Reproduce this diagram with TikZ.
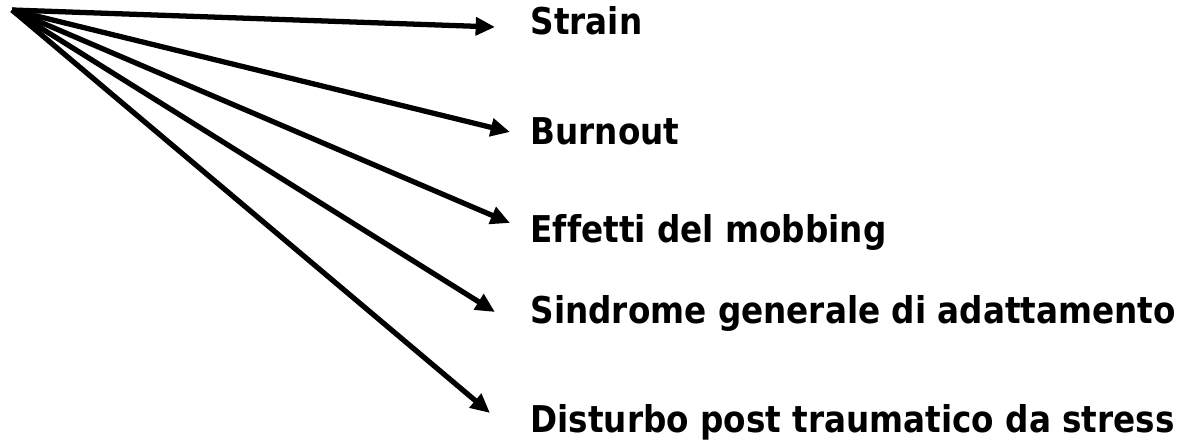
\documentclass[tikz,border=0pt]{standalone}
\usepackage{fontspec}
\setmainfont{DejaVu Sans}[FakeStretch=0.885, Ligatures=NoCommon]
\usetikzlibrary{arrows.meta}

\begin{document}
\begin{tikzpicture}[x=0.02cm, y=-0.02cm, line width=3pt,
    effect/.style={anchor=base west, inner sep=0pt, font=\fontsize{21}{25}\selectfont\bfseries}]
    \useasboundingbox (0,0) rectangle (1184,445);
    \coordinate (cause) at (12,10);

    \node[effect] (strain) at (528,35) {Strain};
    \node[effect] (burnout) at (528,145) {Burnout};
    \node[effect] (mobbing) at (528,243) {Effetti del mobbing};
    \node[effect] (sindrome) at (528,324) {Sindrome generale di adattamento};
    \node[effect] (disturbo) at (528,433) {Disturbo post traumatico da stress};

    \coordinate (tipA) at (495,27);
    \coordinate (tipB) at (510,132);
    \coordinate (tipC) at (510,223);
    \coordinate (tipD) at (495,312);
    \coordinate (tipE) at (490,413);

    \draw[-{Triangle[length=11pt, width=10pt]}] (cause) -- (tipA);
    \draw[-{Triangle[length=11pt, width=10pt]}] (cause) -- (tipB);
    \draw[-{Triangle[length=11pt, width=10pt]}] (cause) -- (tipC);
    \draw[-{Triangle[length=11pt, width=10pt]}] (cause) -- (tipD);
    \draw[-{Triangle[length=11pt, width=10pt]}] (cause) -- (tipE);
\end{tikzpicture}
\end{document}
